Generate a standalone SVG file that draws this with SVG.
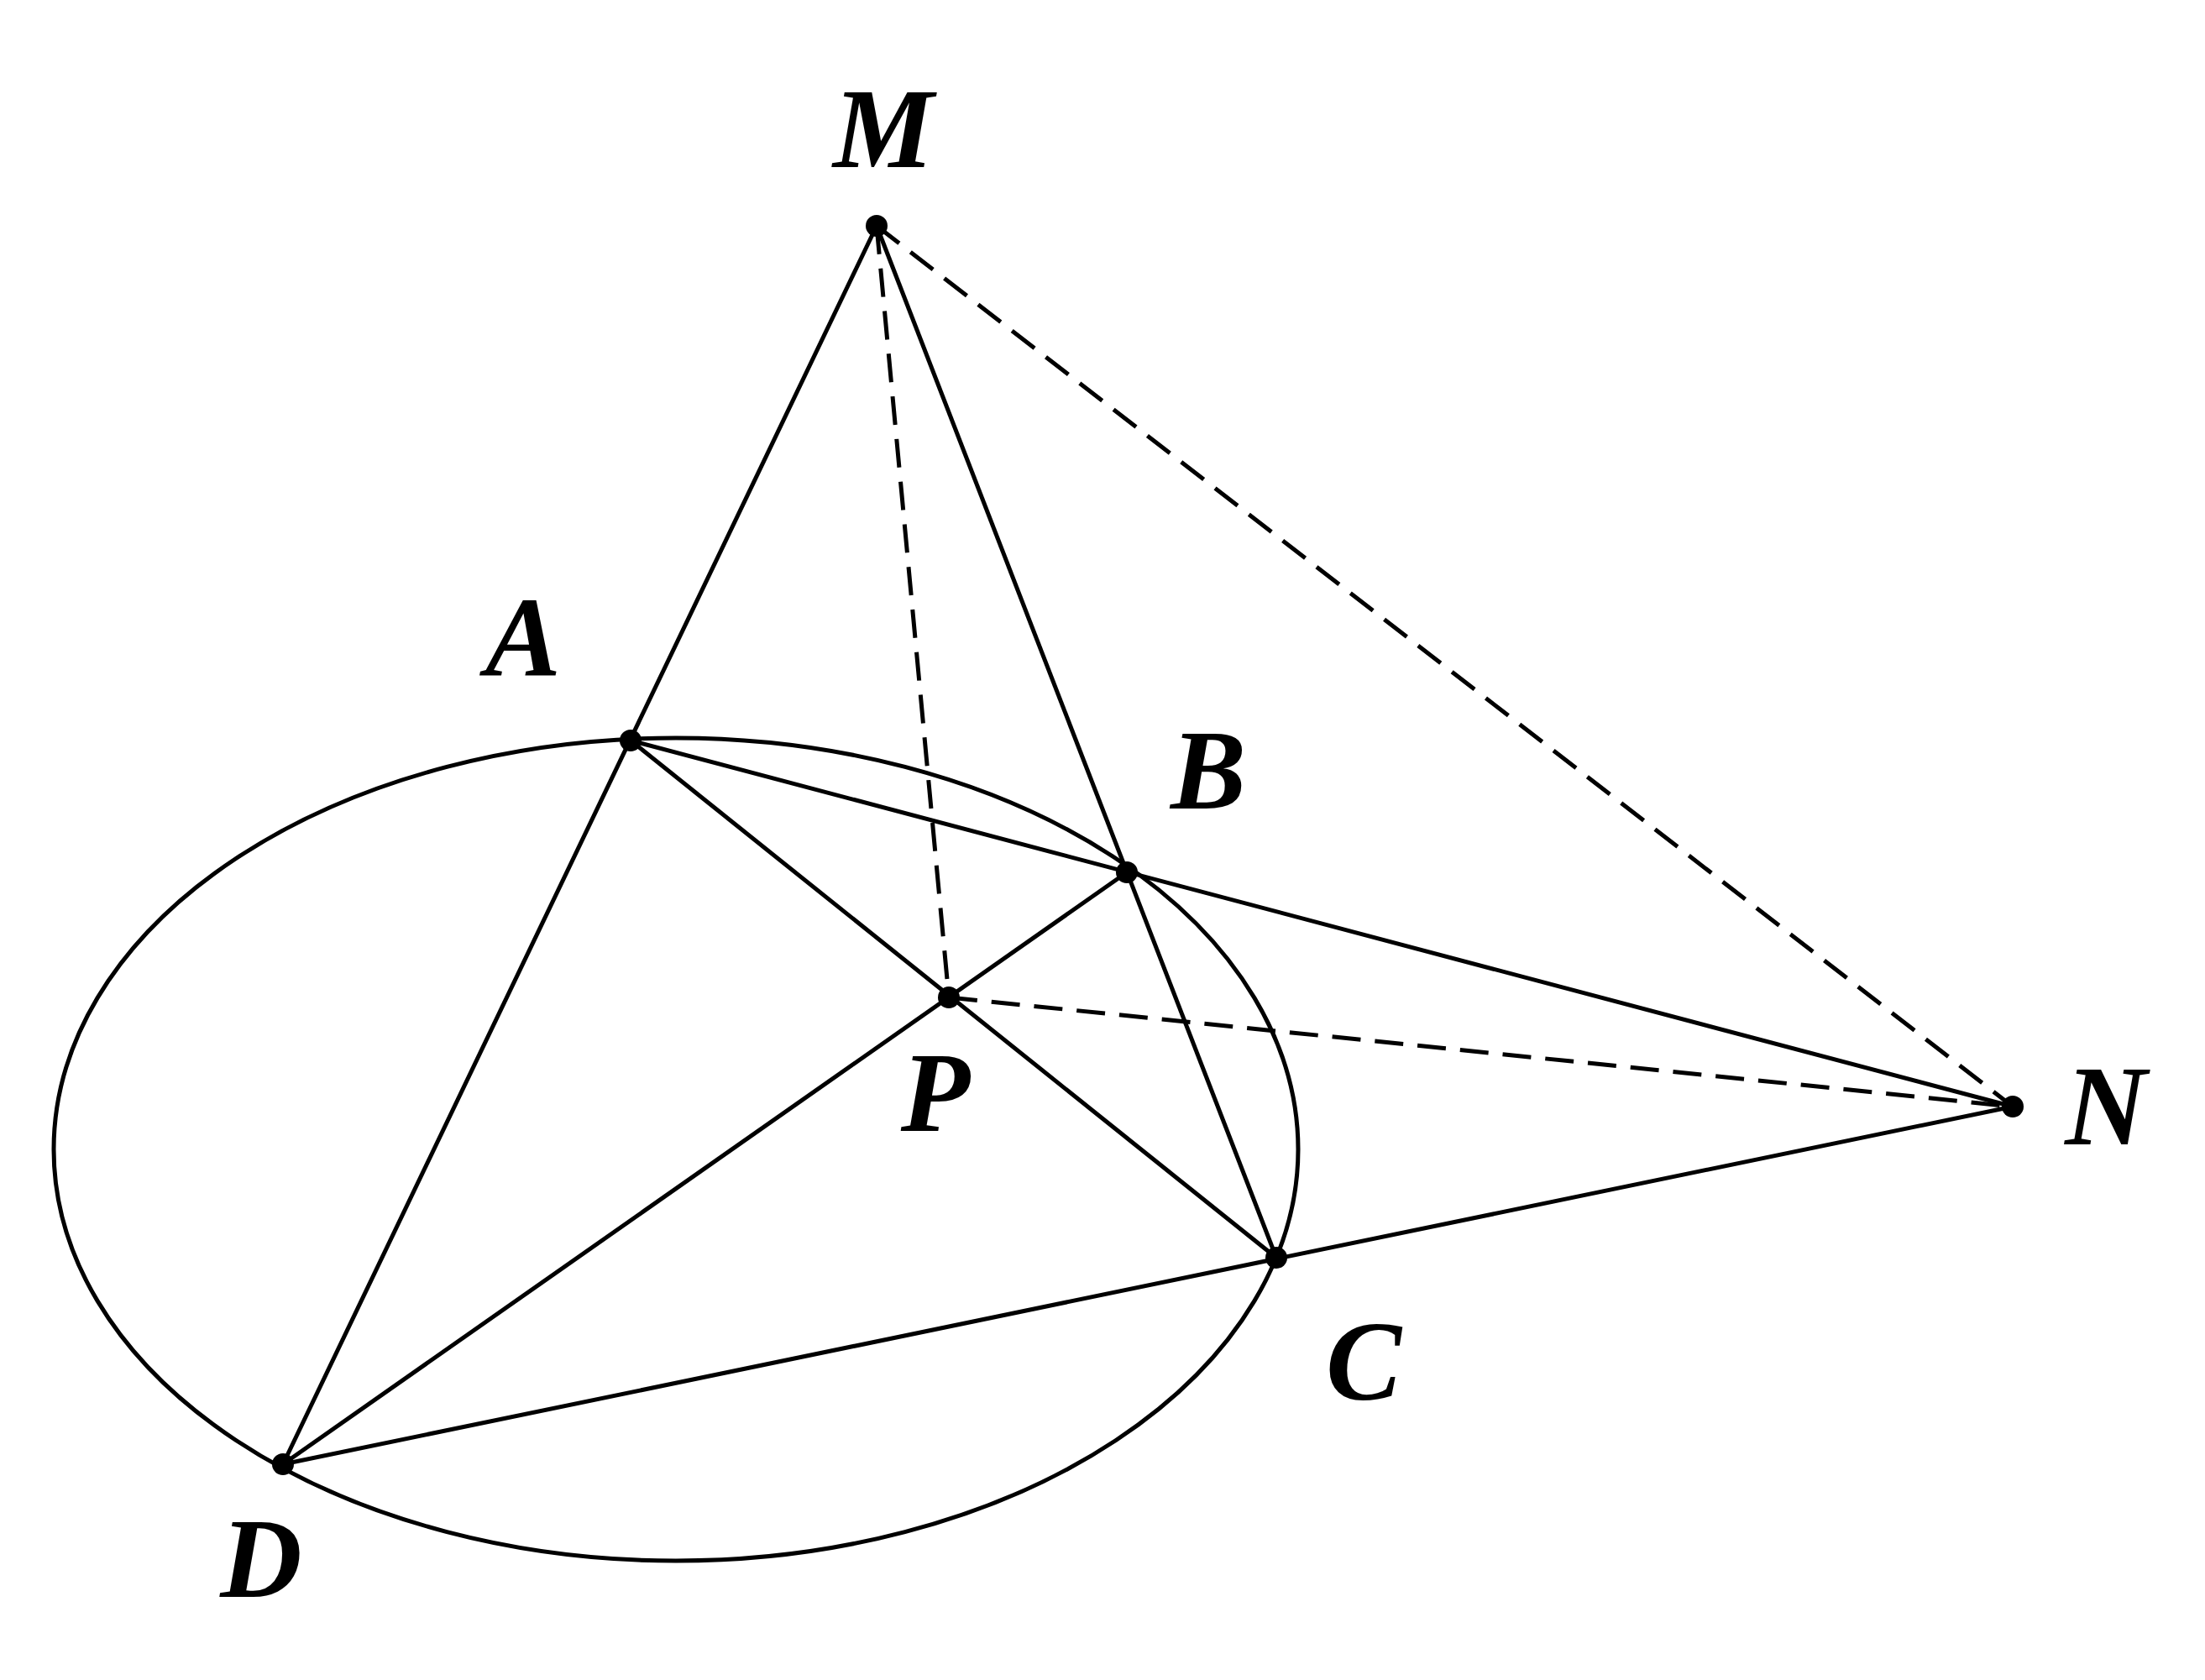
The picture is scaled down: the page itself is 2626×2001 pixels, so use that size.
<svg xmlns="http://www.w3.org/2000/svg" width="2626" height="2001" viewBox="0 0 2626 2001">
<style>
.s{stroke:#000;stroke-width:5;fill:none}
.d{stroke:#000;stroke-width:5;fill:none;stroke-dasharray:34 17}
.t{font-family:"Liberation Serif",serif;font-weight:bold;font-style:italic;font-size:135px;fill:#000;text-anchor:middle}
</style>
<rect width="2626" height="2001" fill="#fff"/>
<g id="connectors">
<ellipse class="s" cx="805" cy="1369" rx="741" ry="490"/>
<line class="s" x1="1044" y1="269" x2="337" y2="1744"/>
<line class="s" x1="1044" y1="269" x2="1520" y2="1498"/>
<line class="s" x1="751" y1="882" x2="2397" y2="1318"/>
<line class="s" x1="751" y1="882" x2="1520" y2="1498"/>
<line class="s" x1="1342" y1="1039" x2="337" y2="1744"/>
<line class="s" x1="337" y1="1744" x2="2397" y2="1318"/>
<line class="d" x1="1044" y1="269" x2="1130" y2="1188"/>
<line class="d" x1="1044" y1="269" x2="2397" y2="1318"/>
<line class="d" x1="1130" y1="1188" x2="2397" y2="1318"/>
</g>
<g id="M"><circle cx="1044" cy="269" r="13"/><text class="t" x="1052" y="199">M</text></g>
<g id="A"><circle cx="751" cy="882" r="13"/><text class="t" x="623" y="805">A</text></g>
<g id="B"><circle cx="1342" cy="1039" r="13"/><text class="t" x="1439" y="963">B</text></g>
<g id="P"><circle cx="1130" cy="1188" r="13"/><text class="t" x="1114" y="1347">P</text></g>
<g id="N"><circle cx="2397" cy="1318" r="13"/><text class="t" x="2508" y="1363">N</text></g>
<g id="C"><circle cx="1520" cy="1498" r="13"/><text class="t" x="1624" y="1667">C</text></g>
<g id="D"><circle cx="337" cy="1744" r="13"/><text class="t" x="311" y="1902">D</text></g>
</svg>
